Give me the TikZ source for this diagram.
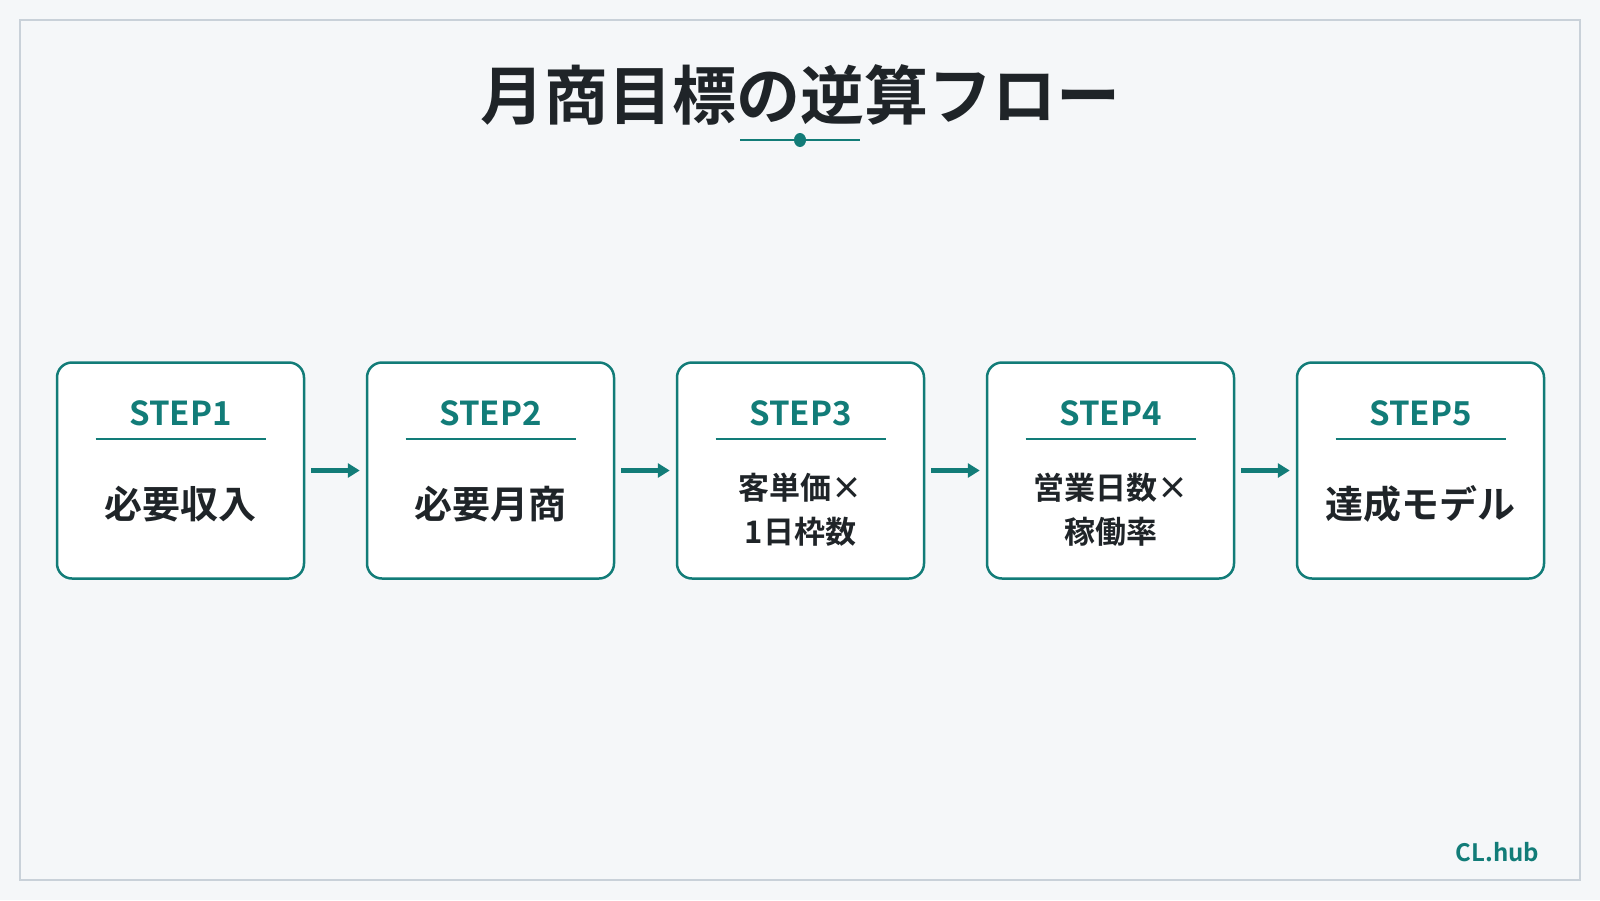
\documentclass[tikz,border=0pt]{standalone}
\usepackage{fontspec}
\setmainfont{Noto Sans CJK JP}[BoldFont={* Bold}]
\usetikzlibrary{arrows.meta}

\definecolor{teal}{HTML}{127C78}
\definecolor{ink}{HTML}{1F2428}
\definecolor{paper}{HTML}{F5F7F9}
\definecolor{frame}{HTML}{C9D1D9}

\begin{document}
\begin{tikzpicture}[x=1pt, y=-1pt,
    stepbox/.style={rectangle, draw=teal, fill=white, line width=2.5pt, rounded corners=15pt, minimum width=247pt, minimum height=216pt},
    steplabel/.style={text=teal, font=\fontsize{33}{38}\selectfont\bfseries},
    steprule/.style={draw=teal, line width=1.5pt},
    bigtext/.style={text=ink, font=\fontsize{38}{42}\selectfont\bfseries},
    twotext/.style={text=ink, align=center, font=\fontsize{31}{44}\selectfont\bfseries},
    flow/.style={draw=teal, line width=4.5pt, -{Triangle[length=12pt, width=14pt]}, shorten <=6pt, shorten >=6pt}]

    % Fond et cadre
    \useasboundingbox (0,0) rectangle (1600,900);
    \fill[paper] (0,0) rectangle (1600,900);
    \draw[frame, line width=1.5pt] (20,20) rectangle (1580,880);

    % Titre et soulignement
    \node[text=ink, font=\fontsize{64}{70}\selectfont\bfseries] (title) at (800,95) {月商目標の逆算フロー};
    \draw[teal, line width=2pt] (740,140) -- (860,140);
    \fill[teal] (800,140) ellipse (6pt and 7pt);

    % Les cinq étapes
    \node[stepbox] (b1) at (180.5,470.5) {};
    \node[stepbox] (b2) at (490.5,470.5) {};
    \node[stepbox] (b3) at (800.5,470.5) {};
    \node[stepbox] (b4) at (1110.5,470.5) {};
    \node[stepbox] (b5) at (1420.5,470.5) {};

    % Titres des étapes et filets
    \node[steplabel] (s1) at (180.5,413) {STEP1};
    \node[steplabel] (s2) at (490.5,413) {STEP2};
    \node[steplabel] (s3) at (800.5,413) {STEP3};
    \node[steplabel] (s4) at (1110.5,413) {STEP4};
    \node[steplabel] (s5) at (1420.5,413) {STEP5};
    \draw[steprule] (95.5,439) -- (265.5,439);
    \draw[steprule] (405.5,439) -- (575.5,439);
    \draw[steprule] (715.5,439) -- (885.5,439);
    \draw[steprule] (1025.5,439) -- (1195.5,439);
    \draw[steprule] (1335.5,439) -- (1505.5,439);

    % Contenu des étapes
    \node[bigtext] (t1) at (180.5,504) {必要収入};
    \node[bigtext] (t2) at (490.5,504) {必要月商};
    \node[twotext] (t3) at (800.5,510) {客単価×\\1日枠数};
    \node[twotext] (t4) at (1110.5,510) {営業日数×\\稼働率};
    \node[bigtext] (t5) at (1420.5,504) {達成モデル};

    % Flèches entre les étapes
    \draw[flow] (b1) -- (b2);
    \draw[flow] (b2) -- (b3);
    \draw[flow] (b3) -- (b4);
    \draw[flow] (b4) -- (b5);

    % Signature
    \node[text=teal, font=\fontsize{24}{27}\selectfont\bfseries] (brand) at (1497.5,852) {CL.hub};

\end{tikzpicture}
\end{document}
